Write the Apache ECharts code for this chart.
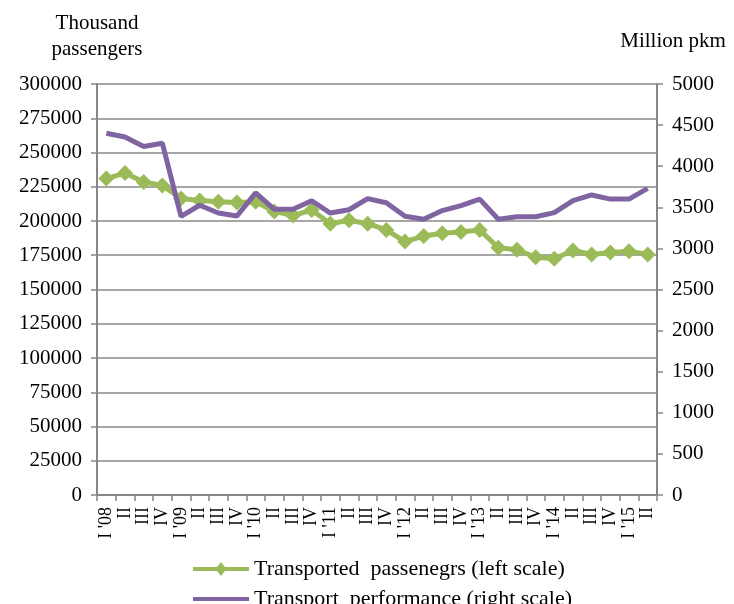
<!DOCTYPE html>
<html>
<head>
<meta charset="utf-8">
<script src="https://cdn.jsdelivr.net/npm/echarts@6/dist/echarts.min.js"></script>
<style>
  html, body { margin: 0; padding: 0; background: #fff; }
  #chart { width: 734px; height: 604px; }
</style>
</head>
<body>
<div id="chart"></div>
<script>
// quarters I'08 .. II'15
const categories = [
  "I '08", 'II', 'III', 'IV',
  "I '09", 'II', 'III', 'IV',
  "I '10", 'II', 'III', 'IV',
  "I '11", 'II', 'III', 'IV',
  "I '12", 'II', 'III', 'IV',
  "I '13", 'II', 'III', 'IV',
  "I '14", 'II', 'III', 'IV',
  "I '15", 'II'
];

// thousand passengers (left scale)
const passengers = [
  231000, 235000, 228500, 226000,
  216500, 215000, 214000, 213500,
  214000, 207000, 204000, 208000,
  198000, 200500, 198000, 193500,
  185000, 189000, 191000, 192000,
  193500, 180500, 179000, 173500,
  172500, 178500, 175500, 177000,
  178000, 175500
];

// million pkm (right scale)
const performance = [
  4400, 4355, 4240, 4280,
  3390, 3525, 3430, 3395,
  3675, 3475, 3475, 3580,
  3430, 3470, 3605, 3555,
  3390, 3355, 3460, 3520,
  3600, 3355, 3385, 3385,
  3435, 3580, 3650, 3600,
  3600, 3730
];

const seriesNames = ['Transported  passenegrs (left scale)', 'Transport  performance (right scale)'];

const font = 'Liberation Serif';
const txt = '#000';
const green = '#9BBB59';
const purple = '#8064A2';
const axisGrey = '#868686';
const gridGrey = '#A6A6A6';

// legend icons: thick line, the green one with a small diamond in the middle
const greenIcon = 'path://M0,5H24L28,0L32,5H56V9H32L28,14L24,9H0Z';
const purpleIcon = 'path://M0,5H56V9H0Z';

const legendBase = {
  left: 188,
  itemWidth: 56,
  itemHeight: 14,
  textStyle: { fontFamily: font, fontSize: 22, color: txt }
};

const plain = v => String(v);

const chart = echarts.init(document.getElementById('chart'));
chart.setOption({
  animation: false,
  backgroundColor: '#fff',
  textStyle: { fontFamily: font, color: txt },
  grid: { left: 97, right: 77, top: 84, bottom: 109 },
  legend: [
    Object.assign({}, legendBase, { top: 553, data: [{ name: seriesNames[0], icon: greenIcon }] }),
    Object.assign({}, legendBase, { top: 583, data: [{ name: seriesNames[1], icon: purpleIcon }] })
  ],
  xAxis: {
    type: 'category',
    data: categories,
    boundaryGap: true,
    axisLine: { lineStyle: { color: axisGrey, width: 2 } },
    axisTick: { show: true, length: 6, interval: 0, lineStyle: { color: axisGrey, width: 1.5 } },
    axisLabel: {
      interval: 0,
      rotate: 90,
      margin: 12,
      fontFamily: font,
      fontSize: 18,
      color: txt
    }
  },
  yAxis: [
    {
      type: 'value',
      min: 0,
      max: 300000,
      interval: 25000,
      name: 'Thousand\npassengers',
      nameLocation: 'end',
      nameGap: 22,
      nameTextStyle: { fontFamily: font, fontSize: 21, color: txt, lineHeight: 26, align: 'center' },
      axisLine: { show: true, lineStyle: { color: axisGrey, width: 2 } },
      axisTick: { show: true, length: 6, lineStyle: { color: axisGrey, width: 1.5 } },
      axisLabel: { margin: 15, fontFamily: font, fontSize: 21, color: txt, formatter: plain },
      splitLine: { show: true, lineStyle: { color: gridGrey, width: 2 } }
    },
    {
      type: 'value',
      min: 0,
      max: 5000,
      interval: 500,
      name: 'Million pkm',
      nameLocation: 'end',
      nameGap: 32,
      nameTextStyle: { fontFamily: font, fontSize: 21, color: txt, padding: [0, 0, 0, 32] },
      axisLine: { show: true, lineStyle: { color: axisGrey, width: 2 } },
      axisTick: { show: true, length: 6, lineStyle: { color: axisGrey, width: 1.5 } },
      axisLabel: { margin: 15, fontFamily: font, fontSize: 21, color: txt, formatter: plain },
      splitLine: { show: false }
    }
  ],
  series: [
    {
      name: seriesNames[0],
      type: 'line',
      yAxisIndex: 0,
      data: passengers,
      symbol: 'diamond',
      symbolSize: [16, 16],
      showSymbol: true,
      itemStyle: { color: green },
      lineStyle: { color: green, width: 5 },
      z: 2
    },
    {
      name: seriesNames[1],
      type: 'line',
      yAxisIndex: 1,
      data: performance,
      symbol: 'none',
      itemStyle: { color: purple },
      lineStyle: { color: purple, width: 5 },
      z: 3
    }
  ]
});
</script>
</body>
</html>
